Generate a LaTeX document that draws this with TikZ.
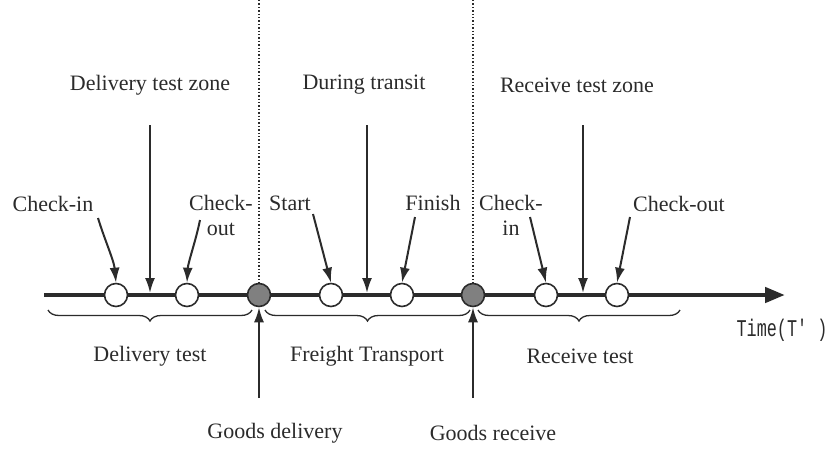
\documentclass[tikz,border=0pt]{standalone}
\usepackage{fontspec}
\setmainfont{Liberation Serif}
\newfontfamily\monof{Liberation Mono}
\usetikzlibrary{arrows.meta,decorations.pathreplacing,calc}
\definecolor{ink}{HTML}{2B2B2B}
\definecolor{gfill}{HTML}{808080}
\begin{document}
\begin{tikzpicture}[x=1pt,y=-1pt,
  every node/.style={text=ink,font=\fontsize{22}{25}\selectfont},
  lbl/.style={inner sep=0pt,align=center},
  evt/.style={circle,draw=ink,line width=1.6pt,fill=white,minimum size=23pt,inner sep=0pt},
  gevt/.style={evt,fill=gfill},
  ptr/.style={draw=ink,line width=2pt,-{Latex[length=15pt,width=10pt]}},
  brc/.style={draw=ink,line width=1.3pt,decorate,decoration={brace,mirror,amplitude=11pt}},
  sepline/.style={draw=ink,line width=1.4pt,dash pattern=on 1.4pt off 2pt},
  axis/.style={draw=ink,line width=4.5pt,-{Triangle[length=20pt,width=15pt]}}]
\useasboundingbox (0,0) rectangle (828,448);
% timeline
\coordinate (tl) at (44,295);
\coordinate (tr) at (785,295);
\draw[axis] (tl) -- (tr);
% events
\node[evt]  (c1) at (116,295) {};
\node[evt]  (c2) at (187,295) {};
\node[gevt] (c3) at (259,295) {};
\node[evt]  (c4) at (331,295) {};
\node[evt]  (c5) at (402,295) {};
\node[gevt] (c6) at (473,295) {};
\node[evt]  (c7) at (546,295) {};
\node[evt]  (c8) at (617,295) {};
% dotted separators
\coordinate (s1) at (259,0);
\coordinate (s2) at (473,0);
\draw[sepline] (s1) -- (c3.north);
\draw[sepline] (s2) -- (c6.north);
% zone labels and arrows
\node[lbl] (z1) at (150,85) {Delivery test zone};
\node[lbl] (z2) at (364,85) {During transit};
\node[lbl] (z3) at (577,85) {Receive test zone};
\coordinate (a1) at (150,125); \coordinate (b1) at (150,293);
\coordinate (a2) at (367,125); \coordinate (b2) at (367,293);
\coordinate (a3) at (583,125); \coordinate (b3) at (583,293);
\draw[ptr] (a1) -- (b1);
\draw[ptr] (a2) -- (b2);
\draw[ptr] (a3) -- (b3);
% event labels
\node[lbl] (l1) at (53,204) {Check-in};
\node[lbl] (l2) at (221,215) {Check-\\out};
\node[lbl] (l3) at (290,203) {Start};
\node[lbl] (l4) at (433,203) {Finish};
\node[lbl] (l5) at (511,215) {Check-\\in};
\node[lbl] (l6) at (679,204) {Check-out};
\draw[ptr] ($(l1.center)+(45,14)$) .. controls +(6,20) and +(-2,-22) .. (c1.north);
\draw[ptr] ($(l2.center)+(-21,5)$) .. controls +(-4,20) and +(1,-20) .. (c2.north);
\draw[ptr] ($(l3.center)+(23,11)$) -- (c4.north);
\draw[ptr] ($(l4.center)+(-18,14)$) -- (c5.north);
\draw[ptr] ($(l5.center)+(19,2)$) -- (c7.north);
\draw[ptr] ($(l6.center)+(-49,13)$) -- (c8.north);
% braces
\coordinate (p1) at (48,310);  \coordinate (q1) at (252,310);
\coordinate (p2) at (265,310); \coordinate (q2) at (470,310);
\coordinate (p3) at (478,310); \coordinate (q3) at (680,310);
\draw[brc] (p1) -- (q1);
\draw[brc] (p2) -- (q2);
\draw[brc] (p3) -- (q3);
\node[lbl] (d1) at (150,356) {Delivery test};
\node[lbl] (d2) at (367,356) {Freight Transport};
\node[lbl] (d3) at (580,356) {Receive test};
\node[lbl,font=\monof\fontsize{24}{26}\selectfont] (tm) at (782,330) {\scalebox{0.7}[1]{Time(T' )}};
% goods arrows
\coordinate (g1) at (259,398);
\coordinate (g2) at (473,398);
\draw[ptr] (g1) -- (c3.south);
\draw[ptr] (g2) -- (c6.south);
\node[lbl] (gd) at (275,433) {Goods delivery};
\node[lbl] (gr) at (493,433) {Goods receive};
\end{tikzpicture}
\end{document}
